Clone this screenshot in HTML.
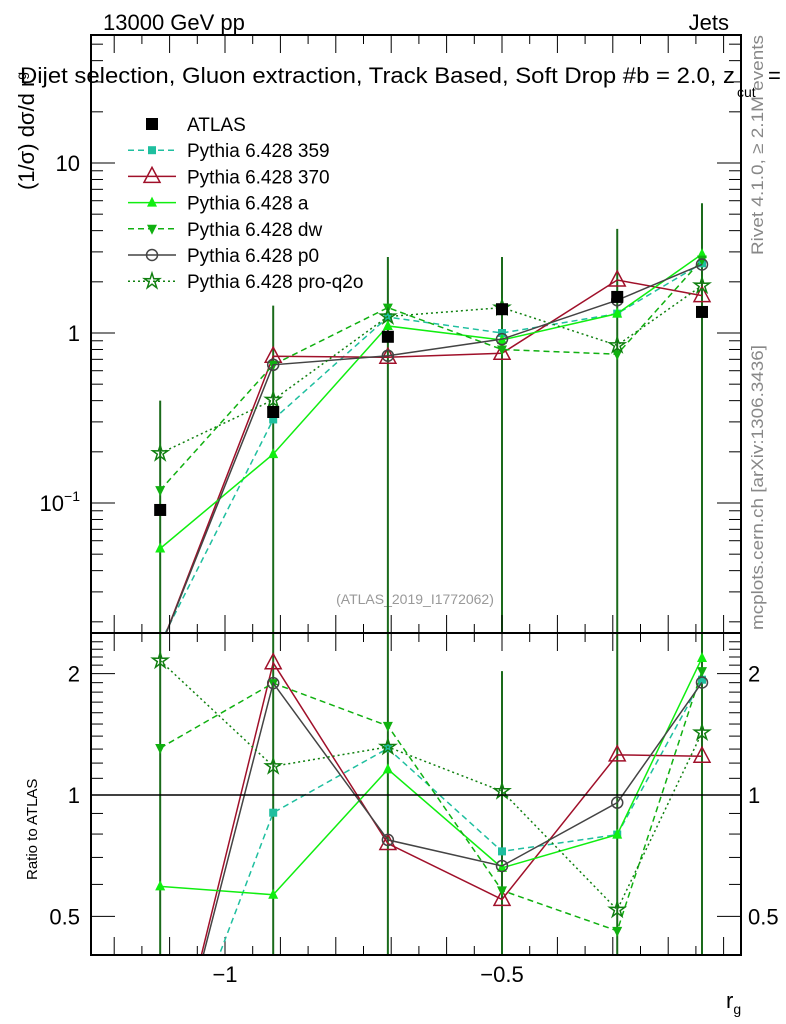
<!DOCTYPE html>
<html><head><meta charset="utf-8"><style>
html,body{margin:0;padding:0;background:#fff;overflow:hidden;width:786px;height:1024px;}
svg{display:block;font-family:"Liberation Sans",Arial,sans-serif;}
</style></head><body>
<svg id="c" width="786" height="1024" viewBox="0 0 786 1024" xmlns="http://www.w3.org/2000/svg">
<text x="103" y="30" font-size="22">13000 GeV pp</text>
<text x="729" y="30" font-size="22" text-anchor="end">Jets</text>
<text x="20" y="83" font-size="22" textLength="715" lengthAdjust="spacingAndGlyphs">Dijet selection, Gluon extraction, Track Based, Soft Drop #b = 2.0, z</text>
<text x="768" y="83" font-size="22">=</text>
<text x="737" y="97" font-size="14">cut</text>
<text transform="translate(34,190) rotate(-90)" font-size="22">(1/σ) dσ/d r<tspan font-size="14" dy="-8">g</tspan></text>
<text transform="translate(37,880) rotate(-90)" font-size="15">Ratio to ATLAS</text>
<text x="726" y="1008" font-size="22">r<tspan font-size="14" dy="6">g</tspan></text>
<text transform="translate(763,255) rotate(-90)" font-size="17" fill="#888" textLength="220" lengthAdjust="spacingAndGlyphs">Rivet 4.1.0, ≥ 2.1M events</text>
<text transform="translate(763,630) rotate(-90)" font-size="17" fill="#888" textLength="285" lengthAdjust="spacingAndGlyphs">mcplots.cern.ch [arXiv:1306.3436]</text>
<text x="415" y="604" font-size="14" fill="#999" text-anchor="middle">(ATLAS_2019_I1772062)</text>
<g id="main"></g><g id="ratio"></g><g id="legend"></g>
</svg>
<script>
const xCenters=[-1.117,-0.913,-0.706,-0.5,-0.292,-0.139];
const atlas=[0.091,0.343,0.95,1.38,1.63,1.33];
const s359=[0.015,0.31,1.24,1.0,1.3,2.57];
const s370=[0.014,0.73,0.72,0.76,2.05,1.66];
const sA=[0.054,0.194,1.10,0.91,1.30,2.91];
const sDW=[0.119,0.65,1.41,0.80,0.75,2.7];
const sP0=[0.014,0.65,0.735,0.92,1.56,2.53];
const sQ2O=[0.196,0.404,1.25,1.41,0.846,1.90];
const errTop=[0.40,1.45,2.8,2.8,4.1,5.8];
const xTicks=[-1,-0.5];
const xTickLabels=["−1","−0.5"];
const ratioTicks=[0.5,1,2];

const NS="http://www.w3.org/2000/svg";
const L=91,R=741,T=35,MB=633,RB=955;
const X=v=>225+(v+1)*554;
const Y=v=>333-Math.log10(v)*170;
const YR=v=>795-Math.log10(v)*403;
function mk(p,tag,a){const e=document.createElementNS(NS,tag);for(const k in a)e.setAttribute(k,a[k]);p.appendChild(e);return e;}
const main=document.getElementById('main'),ratio=document.getElementById('ratio'),leg=document.getElementById('legend');
const defs=mk(document.getElementById('c'),'defs',{});
const c1=mk(defs,'clipPath',{id:'cm'});mk(c1,'rect',{x:L,y:T,width:R-L,height:MB-T});
const c2=mk(defs,'clipPath',{id:'cr'});mk(c2,'rect',{x:L,y:MB,width:R-L,height:RB-MB});
const gm=mk(main,'g',{'clip-path':'url(#cm)'}),gr=mk(ratio,'g',{'clip-path':'url(#cr)'});

let f=mk(main,'rect',{x:L,y:T,width:R-L,height:MB-T,fill:'none',stroke:'#000','stroke-width':2});

f=mk(ratio,'rect',{x:L,y:MB,width:R-L,height:RB-MB,fill:'none',stroke:'#000','stroke-width':2});

let ln=mk(ratio,'line',{x1:L,x2:R,y1:YR(1),y2:YR(1),stroke:'#000','stroke-width':1.5});


for(let v=-1.2;v<=-0.05;v+=0.05){const vv=Math.round(v*100)/100;const major=Math.abs(vv*10-Math.round(vv*10))<1e-6;const len=major?18:9;const x=X(vv);if(x<L||x>R)continue;
 [[T,1],[MB,-1],[MB,1],[RB,-1]].forEach(([y,d])=>{const t=mk(main,'line',{x1:x,x2:x,y1:y,y2:y+d*len,stroke:'#000','stroke-width':1});});}
xTicks.forEach((v,i)=>{const t=mk(ratio,'text',{x:X(v),y:982,'font-size':22,'text-anchor':'middle'});t.textContent=xTickLabels[i];});
for(let d=-2;d<=1;d++)for(let m=1;m<10;m++){const v=m*Math.pow(10,d);const y=Y(v);if(y<T||y>MB)continue;const len=m==1?24:12;
 [[L,1],[R,-1]].forEach(([x,s])=>{const t=mk(main,'line',{x1:x,x2:x+s*len,y1:y,y2:y,stroke:'#000','stroke-width':1});});}
[[10,'10'],[1,'1']].forEach(([v,s])=>{const t=mk(main,'text',{x:80,y:Y(v)+8,'font-size':22,'text-anchor':'end'});t.textContent=s;});
{const t=mk(main,'text',{x:80,y:Y(0.1)+8,'font-size':22,'text-anchor':'end'});t.innerHTML='10<tspan font-size="14" dy="-10">−1</tspan>';}
for(let v=0.4;v<=2.5;v+=0.1){const vv=Math.round(v*10)/10;const y=YR(vv);if(y<MB||y>RB)continue;const major=ratioTicks.includes(vv);const len=major?24:12;
 [[L,1],[R,-1]].forEach(([x,s])=>{const t=mk(ratio,'line',{x1:x,x2:x+s*len,y1:y,y2:y,stroke:'#000','stroke-width':1});});}
ratioTicks.forEach(v=>{[[80,'end'],[748,'start']].forEach(([x,a])=>{const t=mk(ratio,'text',{x:x,y:YR(v)+8,'font-size':22,'text-anchor':a});t.textContent=String(v);});});

xCenters.forEach((xc,i)=>{const x=X(xc);
 let e=mk(gm,'line',{x1:x,x2:x,y1:Y(errTop[i]),y2:MB,stroke:'#1a6a1a','stroke-width':2});
 e=mk(gr,'line',{x1:x,x2:x,y1:YR(errTop[i]/atlas[i]),y2:RB,stroke:'#1a6a1a','stroke-width':2});});

function marker(g,type,x,y,col){
 if(type==='sq')return mk(g,'rect',{x:x-4,y:y-4,width:8,height:8,fill:col});
 if(type==='bsq')return mk(g,'rect',{x:x-6,y:y-6,width:12,height:12,fill:col});
 if(type==='otri')return mk(g,'polygon',{points:`${x},${y-9} ${x-8},${y+6} ${x+8},${y+6}`,fill:'none',stroke:col,'stroke-width':1.5});
 if(type==='tri')return mk(g,'polygon',{points:`${x},${y-6} ${x-5},${y+4} ${x+5},${y+4}`,fill:col});
 if(type==='dtri')return mk(g,'polygon',{points:`${x},${y+6} ${x-5},${y-4} ${x+5},${y-4}`,fill:col});
 if(type==='circ')return mk(g,'circle',{cx:x,cy:y,r:5.5,fill:'none',stroke:col,'stroke-width':1.5});
 if(type==='star'){let p=[];for(let k=0;k<10;k++){const r=k%2?3:8,a=-Math.PI/2+k*Math.PI/5;p.push((x+r*Math.cos(a)).toFixed(1)+','+(y+r*Math.sin(a)).toFixed(1));}return mk(g,'polygon',{points:p.join(' '),fill:'none',stroke:col,'stroke-width':1.5});}
}
const series=[
 {name:'Pythia 6.428 359',vals:s359,col:'#1fbf9f',dash:'6,4',m:'sq',id:'359'},
 {name:'Pythia 6.428 370',vals:s370,col:'#a0102a',dash:'',m:'otri',id:'370'},
 {name:'Pythia 6.428 a',vals:sA,col:'#10ee10',dash:'',m:'tri',id:'a'},
 {name:'Pythia 6.428 dw',vals:sDW,col:'#10b010',dash:'6,4',m:'dtri',id:'dw'},
 {name:'Pythia 6.428 p0',vals:sP0,col:'#444',dash:'',m:'circ',id:'p0'},
 {name:'Pythia 6.428 pro-q2o',vals:sQ2O,col:'#108010',dash:'2,3',m:'star',id:'pro-q2o'}];
series.forEach(s=>{
 const pm=s.vals.map((v,i)=>X(xCenters[i])+','+Y(v)).join(' ');
 let p=mk(gm,'polyline',{points:pm,fill:'none',stroke:s.col,'stroke-width':1.5,'stroke-dasharray':s.dash});
 
 const pr=s.vals.map((v,i)=>X(xCenters[i])+','+YR(v/atlas[i])).join(' ');
 p=mk(gr,'polyline',{points:pr,fill:'none',stroke:s.col,'stroke-width':1.5,'stroke-dasharray':s.dash});
 
 s.vals.forEach((v,i)=>{let m=marker(gm,s.m,X(xCenters[i]),Y(v),s.col);
  m=marker(gr,s.m,X(xCenters[i]),YR(v/atlas[i]),s.col);});
});
atlas.forEach((v,i)=>{const m=marker(gm,'bsq',X(xCenters[i]),Y(v),'#000');});

const rows=[{name:'ATLAS',m:'bsq',col:'#000',dash:null}].concat(series);
rows.forEach((s,k)=>{const y=124+k*26.2;
 const g=mk(leg,'g',{});
 if(s.dash!==null)mk(g,'line',{x1:128,x2:176,y1:y,y2:y,stroke:s.col,'stroke-width':1.5,'stroke-dasharray':s.dash});
 marker(g,s.m,152,y,s.col);
 const t=mk(g,'text',{x:187,y:y+7,'font-size':19});t.textContent=s.name;});
</script>
</body></html>
